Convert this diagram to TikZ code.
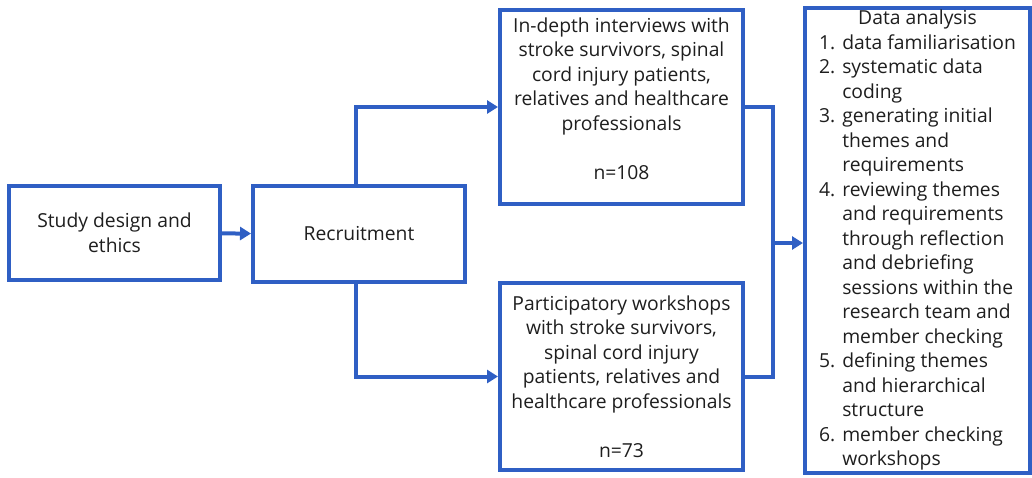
\documentclass[tikz,border=0pt]{standalone}
\usepackage{fontspec}
\setmainfont{Open Sans}
\usepackage{tikz}
\usetikzlibrary{arrows.meta,calc,positioning}
\definecolor{azul}{RGB}{47,95,196}
\definecolor{tinta}{RGB}{30,30,30}
\tikzstyle{box}  =[draw=azul, line width=4pt, inner sep=0pt,
                   align=center, text=tinta]
\tikzstyle{edge} =[draw=azul, line width=4pt]
\tikzstyle{arrow}=[edge, -{Triangle[length=11pt,width=13pt]}]

\begin{document}
\begin{tikzpicture}[x=1pt,y=-1pt,font=\fontsize{19.3}{24.5}\selectfont]
    \useasboundingbox (0,0) rectangle (1032,477);

    \node (design) [box, minimum width=211pt, minimum height=94pt] at (114.5,233)
        {Study design and\\ethics};
    \node (recruit) [box, minimum width=212pt, minimum height=96pt] at (359,234)
        {Recruitment};
    \node (interviews) [box, minimum width=243pt, minimum height=194pt] at (621.5,107)
        {In-depth interviews with\\stroke survivors, spinal\\cord injury patients,\\
         relatives and healthcare\\professionals\\[24.5pt]n=108\\[-7.5pt]\mbox{}};
    \node (workshops) [box, minimum width=243pt, minimum height=187pt] at (621.5,376.5)
        {Participatory workshops\\with stroke survivors,\\spinal cord injury\\
         patients, relatives and\\healthcare professionals\\[24.5pt]n=73};
    \node (analysis) [box, minimum width=225pt, minimum height=463pt] at (917.5,240.5)
        {\begin{tabular}{@{}r@{\hspace{7pt}}l@{}}
            \multicolumn{2}{c}{Data analysis}\\
            1. & data familiarisation\\
            2. & systematic data\\
               & coding\\
            3. & generating initial\\
               & themes and\\
               & requirements\\
            4. & reviewing themes\\
               & and requirements\\
               & through reflection\\
               & and debriefing\\
               & sessions within the\\
               & research team and\\
               & member checking\\
            5. & defining themes\\
               & and hierarchical\\
               & structure\\
            6. & member checking\\
               & workshops
         \end{tabular}};

    % connectors
    \coordinate (split) at ([xshift=105pt]recruit.north west);
    \coordinate (merge) at (773,243);

    \draw [arrow] (design) -- (recruit);
    \draw [arrow] (split) |- (interviews.west);
    \draw [arrow] (split |- recruit.south) |- (workshops.west);
    \draw [edge] (interviews.east) -| (merge) |- (workshops.east);
    \draw [arrow] (merge) -- (merge -| analysis.west);
\end{tikzpicture}
\end{document}
